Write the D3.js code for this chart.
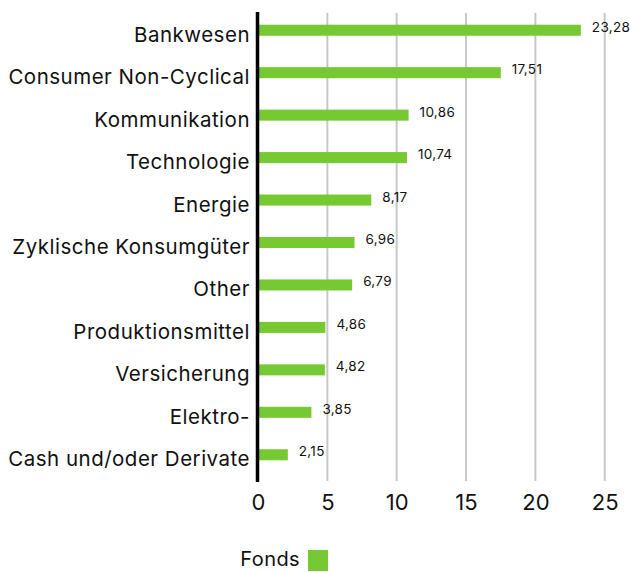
<!DOCTYPE html>
<html>
<head>
<meta charset="utf-8">
<script src="https://cdn.jsdelivr.net/npm/d3@7"></script>
<style>
  body { margin: 0; background: #fff; }
  svg { display: block; }
  text { font-family: Inter, "Noto Sans", sans-serif; fill: #111; }
</style>
</head>
<body>
<svg id="chart" width="630" height="572"></svg>
<script>
// Sector weights of the fund (%)
const categories = [
  "Bankwesen", "Consumer Non-Cyclical", "Kommunikation", "Technologie", "Energie",
  "Zyklische Konsumgüter", "Other", "Produktionsmittel", "Versicherung", "Elektro-",
  "Cash und/oder Derivate"
];
const values = [23.28, 17.51, 10.86, 10.74, 8.17, 6.96, 6.79, 4.86, 4.82, 3.85, 2.15];
const xTicks = [0, 5, 10, 15, 20, 25];
const seriesName = "Fonds";

const svg = d3.select("#chart");
const plotLeft = 258, plotRight = 604.7, plotTop = 9, plotBottom = 476;
const green = "#76c932";

const x = d3.scaleLinear().domain([0, 25]).range([plotLeft, plotRight]);
const y = d3.scaleBand().domain(categories).range([plotTop, plotBottom]).paddingInner(0.74).paddingOuter(0.37);

// vertical grid lines
svg.append("g").selectAll("line").data(xTicks.slice(1)).join("line")
  .attr("x1", d => x(d)).attr("x2", d => x(d))
  .attr("y1", 13).attr("y2", 481)
  .attr("stroke", "#c8c8c8").attr("stroke-width", 2);

// bars
svg.append("g").selectAll("rect").data(values).join("rect")
  .attr("x", x(0))
  .attr("y", (d, i) => y(categories[i]))
  .attr("width", d => x(d) - x(0))
  .attr("height", y.bandwidth())
  .attr("fill", green);

// value labels
const fmt = v => v.toFixed(2).replace(".", ",");
svg.append("g").selectAll("text").data(values).join("text")
  .attr("x", d => x(d) + 11)
  .attr("y", (d, i) => y(categories[i]) + y.bandwidth() / 2 + 1.5)
  .attr("font-size", 13.5)
  .attr("letter-spacing", 0.3)
  .text(fmt);

// category labels
svg.append("g").selectAll("text").data(categories).join("text")
  .attr("x", 250)
  .attr("y", d => y(d) + y.bandwidth() / 2 + 11.5)
  .attr("text-anchor", "end")
  .attr("font-size", 20.5)
  .attr("letter-spacing", 0.5)
  .text(d => d);

// x axis tick labels
const xAxis = d3.axisBottom(x).tickValues(xTicks).tickSize(0).tickPadding(0);
const gx = svg.append("g").attr("transform", "translate(0,489)").call(xAxis);
gx.select(".domain").remove();
gx.selectAll("text").attr("font-size", 22).attr("dy", "0.95em")
  .style("font-family", 'Inter, "Noto Sans", sans-serif').attr("fill", "#111");

// y axis line
svg.append("line")
  .attr("x1", plotLeft - 0.5).attr("x2", plotLeft - 0.5)
  .attr("y1", 12).attr("y2", 482)
  .attr("stroke", "#000").attr("stroke-width", 3.5);

// legend
const lg = svg.append("g");
lg.append("text").attr("x", 300).attr("y", 566).attr("text-anchor", "end")
  .attr("font-size", 20).attr("letter-spacing", 0.4).text(seriesName);
lg.append("rect").attr("x", 308).attr("y", 550).attr("width", 20).attr("height", 21).attr("fill", green);
</script>
</body>
</html>
